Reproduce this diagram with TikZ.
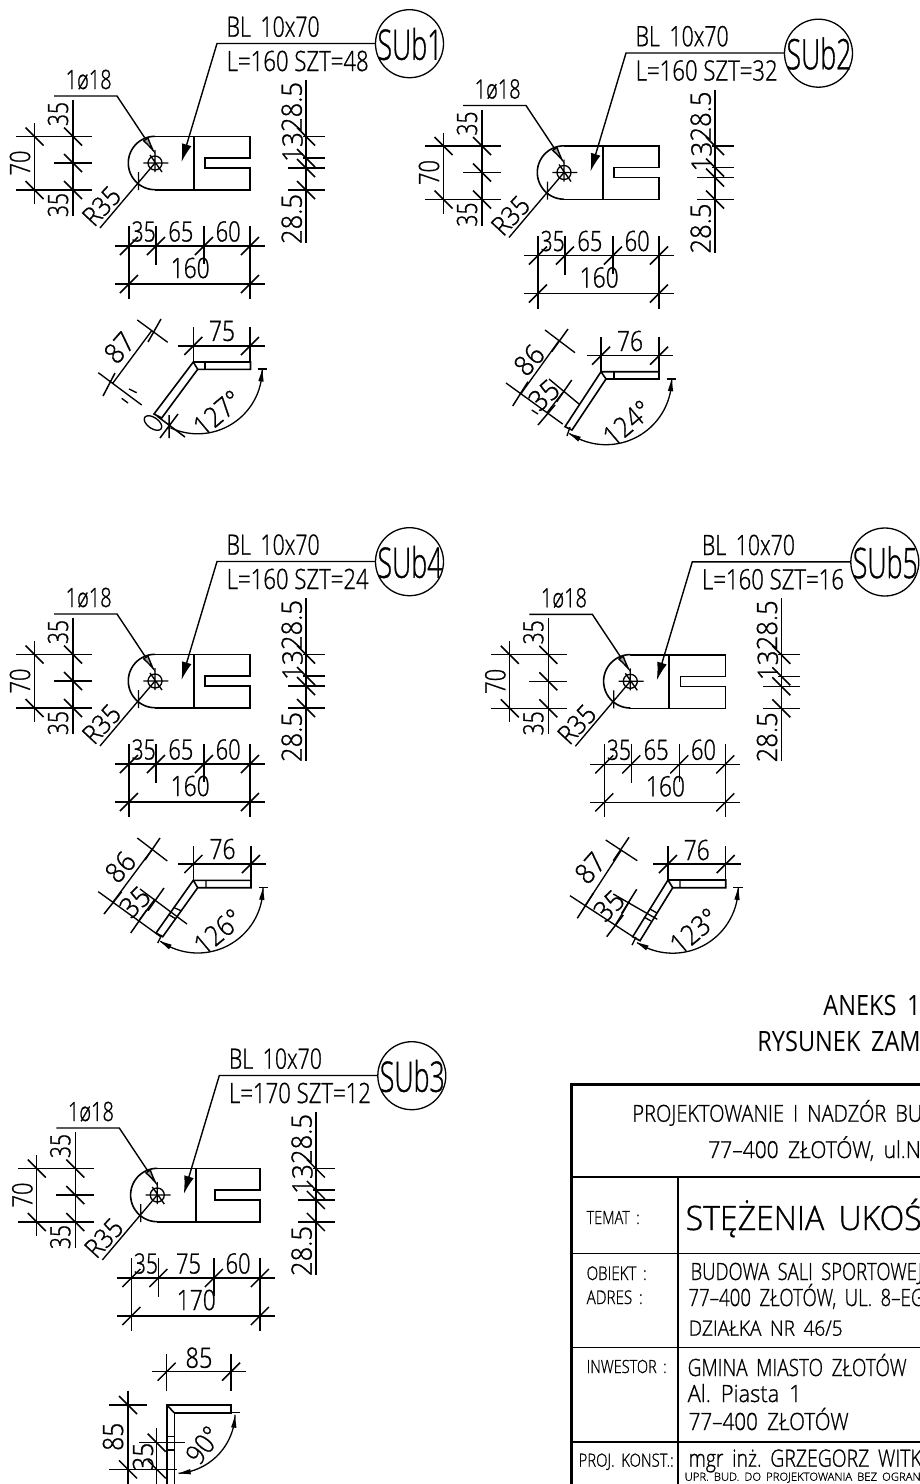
\documentclass[tikz,border=0pt]{standalone}
\usepackage{fontspec}
\usepackage{graphicx}
\setmainfont[FakeBold=1]{Open Sans Light}
\newfontfamily\heavyf{Open Sans}
\usetikzlibrary{arrows.meta}
\newsavebox\tbx
% \ctxt[opts]{x}{y}{width}{cap height}{text}
\newcommand{\ctxt}[6][]{%
  \sbox\tbx{\pgfinterruptpicture\normalfont #6\endpgfinterruptpicture}%
  \pgfmathsetmacro\tsx{#4/(\wd\tbx/1pt)}%
  \pgfmathsetmacro\tsy{#5/7.14}%
  \node[inner sep=0pt,anchor=base west,#1] at (#2,#3) {\scalebox{\tsx}[\tsy]{\usebox\tbx}};%
}
\newcommand{\gp}{\hspace{0.45em}}
\newcommand{\tkb}[2]{\draw[ticks] (#1-9,#2-9) -- (#1+9,#2+9);}
\newcommand{\tkf}[2]{\draw[ticks] (#1-9,#2+9) -- (#1+9,#2-9);}
% filled arrow head: tip x, tip y, direction from tip to tail (screen-clockwise degrees)
\newcommand{\tip}[3]{\fill (#1,#2) -- +(#3+13:12) -- +(#3-13:12) -- cycle;}
% dimension arc: cx cy r start end
\newcommand{\darc}[5]{\draw[arcdim] plot[domain=#4:#5,samples=40] ({#1+#3*cos(\x)},{#2+#3*sin(\x)});}
\tikzset{ticks/.style={line width=1.5pt},
  rottxt/.style={anchor=center,rotate=#1},
  lead/.style={line width=1.4pt},
  arcdim/.style={line width=1.3pt},
  part/.style={line width=1.6pt}}
% top view: dx dy e  line2 sub mid total
\newcommand{\TV}[7]{%
\begin{scope}[shift={(#1,#2)}]
\pgfmathsetmacro\eb{#3}
% plate
\draw[part] plot[domain=90:270,samples=40] ({155+26.7*cos(\x)},{163+26.7*sin(\x)});
\draw[part] (155,136.5)--(250+\eb,136.5)--(250+\eb,158)--(205+\eb,158)--(205+\eb,168)--(250+\eb,168)--(250+\eb,190)--(155,190);
\draw[part] (193.7,136.5)--(193.7,190);
% hole
\draw (155,163) circle[radius=7pt];
\draw (143.3,163)--(168.3,163) (155,150)--(155,172) (150,155)--(162,172);
% leaders
\draw[lead,-{Latex[length=20pt,width=7pt,fill=gray!70]}] (54,96)--(117,96)--(156.5,155.5);
\draw[lead,-{Latex[length=18pt,width=10pt]}] (375,43.5)--(217,43.5)--(181.5,162);
\ctxt{65}{89}{46}{19}{1ø18}
\ctxt{226}{36.7}{93}{20}{BL\gp 10x70}
\ctxt{226}{71}{142}{20}{#4}
\draw[line width=1.3pt] (409.5,43.7) circle[radius=34pt];
\ctxt[rottxt=0]{410}{44}{65}{30}{#5}
% 70
\draw (34.5,123)--(34.5,204) (16,136.5)--(92,136.5) (16,190)--(92,190);
\tkb{34.5}{136.5}\tkb{34.5}{190}
\ctxt[rottxt=90]{20}{163}{25}{20}{70}
% 35/35
\draw (73,100)--(73,216) (54,163)--(92,163);
\tkb{73}{136.5}\tkb{73}{163}\tkb{73}{190}
\ctxt[rottxt=90]{58}{114}{24}{20}{35}
\ctxt[rottxt=90]{58}{205}{24}{20}{35}
% R35
\draw (155,163)--(100,228) (138.5,172)--(138.5,190);
\ctxt[rottxt=47]{101.5}{206}{42}{19}{R35}
% bottom dims
\draw (115,246)--(265+\eb,246) (115,284)--(265+\eb,284);
\draw (129,226)--(129,299) (156,226)--(156,265) (204+\eb,226)--(204+\eb,264) (250+\eb,226)--(250+\eb,299);
\tkf{129}{246}\tkf{156}{246}\tkf{204+\eb}{246}\tkf{250+\eb}{246}\tkf{129}{284}\tkf{250+\eb}{284}
\ctxt{131}{241.5}{24}{20}{35}
\ctxt{167.7+0.7*\eb}{241.5}{25}{20}{#6}
\ctxt{215+\eb}{241.5}{25}{20}{60}
\ctxt{170+0.5*\eb}{278}{39}{20}{#7}
% right dims
\draw (306+\eb,80)--(306+\eb,243);
\draw (303+\eb,136.5)--(325+\eb,136.5) (303+\eb,158)--(325+\eb,158) (288+\eb,168)--(325+\eb,168) (288+\eb,190)--(325+\eb,190);
\tkb{306+\eb}{136.5}\tkb{306+\eb}{158}\tkb{306+\eb}{168}\tkb{306+\eb}{190}
\ctxt[rottxt=90]{291.7+\eb}{107}{50}{20}{28.5}
\ctxt[rottxt=90]{292.5+\eb}{147}{30}{20}{13}
\ctxt[rottxt=90]{291.7+\eb}{219}{50}{20}{28.5}
\end{scope}}
\begin{document}
\begin{tikzpicture}[x=1pt,y=-1pt,line width=1.35pt]
\useasboundingbox (0,0) rectangle (920,1484);
\fill[white] (0,0) rectangle (920,1484);
\clip (0,0) rectangle (920,1484);

\TV{0}{0}{0}{L=160 SZT=48}{SUb1}{65}{160}
\TV{409}{9.5}{0}{L=160 SZT=32}{SUb2}{65}{160}
\TV{0}{518}{0}{L=160 SZT=24}{SUb4}{65}{160}
\TV{475.3}{518.3}{0}{L=160 SZT=16}{SUb5}{65}{160}
\TV{2.3}{1032}{7.6}{L=170 SZT=12}{SUb3}{75}{170}

% ---- bottom view SUb1
\draw (178,346)--(265,346) (193.3,327)--(193.3,362) (250,327)--(250,362);
\tkf{193.3}{346}\tkf{250}{346}
\ctxt[rottxt=0]{222}{331}{26}{20}{75}
\draw[part] (193.3,362)--(250.5,362)--(250.5,369.3)--(197.7,369.3)--(161.7,418)--(154,414)--(193.3,362)--(197.7,369.3);
\draw (205,362)--(205,369);
\draw (112.7,383.3)--(151.7,330.7) (137.3,320)--(167.7,342.3) (98.3,372.7)--(141.7,405);
\draw[ticks] (161,319)--(148,342) (103,396)--(115,373);
\draw (129,389)--(136.7,392.7) (121.7,398.3)--(128,403);
\ctxt[rottxt=48]{119.3}{347.7}{30}{20}{87}
\draw[rotate around={-35:(153,423)}] (153,423) ellipse [x radius=10pt,y radius=5.5pt];
\draw[ticks] (160,438)--(178,414) (157,416)--(185,437) (169,415)--(169,438);
\darc{197.7}{369.3}{64.5}{0}{115}
\tip{262.2}{369.8}{96}
\draw (257.5,369)--(267,369);
\ctxt[rottxt=40]{217.3}{413}{53}{20}{127°}

% ---- bottom view SUb2
\draw (586.7,355.7)--(673,355.7) (601,337)--(601,372) (659,337)--(659,372);
\tkf{601}{355.7}\tkf{659}{355.7}
\ctxt[rottxt=0]{630}{341}{26}{20}{76}
\draw[part] (601,371.7)--(659,371.7)--(659,379)--(606,379)--(572,430)--(565,426.7)--(601,371.7)--(606,379);
\draw (614,372)--(614,379);
\draw (520.7,394)--(559,340.7) (545,330)--(575,352.7) (506,383)--(562.7,424);
\draw[ticks] (568,329)--(551.7,351.7) (512.7,406)--(528,381.7);
\draw (547,412.7)--(562.7,392.7) (549,379)--(579,404);
\draw[ticks] (538,425)--(555,405) (556.7,401.7)--(571.7,380);
\draw (531.7,410)--(538,414) (570,427)--(567,436);
\ctxt[rottxt=48]{529}{360}{30}{20}{86}
\ctxt[rottxt=42]{544}{395}{30}{20}{35}
\darc{606}{379}{65.7}{0}{124}
\tip{671.7}{379.5}{96}
\tip{569.3}{433.5}{29}
\draw (667,379)--(676,379);
\ctxt[rottxt=40]{627}{423}{53}{20}{124°}

% ---- bottom view SUb4
\draw (178,864)--(266,864) (193.3,846)--(193.3,880) (251,846)--(251,880);
\tkf{193.3}{864}\tkf{251}{864}
\ctxt[rottxt=0]{222.5}{849}{26}{20}{76}
\draw[part] (193.3,880.3)--(251,880.3)--(251,887.7)--(197.7,887.7)--(162.7,936.7)--(156,933)--(193.3,880.3)--(197.7,887.7);
\draw (206,880.3)--(206,887.7) (173.3,907.3)--(181,910.7) (168.3,914.3)--(176,919);
\draw (113.3,901.7)--(151.7,850) (137.3,838)--(167.3,861) (98.3,891.7)--(160.7,936.7);
\draw[ticks] (160,838)--(145,860) (104,914)--(121.7,891.7);
\draw (139.3,920)--(155,899) (140,889)--(187,924);
\draw[ticks] (130.7,933)--(146.7,910) (148,910.7)--(164,888);
\draw (161.7,935)--(157.7,943);
\ctxt[rottxt=48]{120.3}{867}{30}{20}{86}
\ctxt[rottxt=44]{135}{902}{30}{20}{35}
\darc{197.7}{887.7}{65.3}{0}{125}
\tip{263}{888.2}{96}
\tip{160.2}{941.2}{30}
\draw (258.5,887.7)--(268,887.7);
\ctxt[rottxt=40]{218}{931.7}{53}{20}{126°}

% ---- bottom view SUb5
\draw (653.3,864)--(740.7,864) (668,846)--(668,880) (725.7,846)--(725.7,880);
\tkf{668}{864}\tkf{725.7}{864}
\ctxt[rottxt=0]{696.7}{850}{26}{20}{76}
\draw[part] (668,880)--(725.7,880)--(725.7,887.7)--(672.7,887.7)--(640,940.7)--(632.7,936.7)--(668,880)--(672.7,887.7);
\draw (680,880)--(680,887.7) (650,909)--(657,913) (644,917)--(651,921);
\draw (585,906)--(621,850.7) (605.7,840)--(637.3,860.7) (570,895.7)--(633,936.7);
\draw[ticks] (629,837.3)--(613.3,860.7) (577.3,918.3)--(593.3,893.3);
\draw (615,925.7)--(629.3,901.7) (613.3,894)--(657.3,919.3);
\draw[ticks] (606.7,936.7)--(623.3,915) (621.7,913.3)--(636.7,889.3);
\draw (636,937)--(632,945);
\ctxt[rottxt=48]{590}{868}{30}{20}{87}
\ctxt[rottxt=44]{609}{905.7}{30}{20}{35}
\darc{672.7}{887.7}{65.5}{0}{123}
\tip{738.2}{888.2}{96}
\tip{637}{942.5}{28}
\draw (733,887.7)--(743,887.7);
\ctxt[rottxt=40]{694}{931}{53}{20}{123°}

% ---- bottom view SUb3
\draw (152,1371.7)--(245.7,1371.7) (166.7,1354)--(166.7,1391) (231,1354)--(231,1391);
\tkf{166.7}{1371.7}\tkf{231}{1371.7}
\ctxt[rottxt=0]{199}{1357.7}{27}{20}{85}
\draw[part] (174.3,1490)--(174.3,1412.7)--(231,1412.7)--(231,1405)--(166.7,1405)--(166.7,1490);
\draw[part] (166.7,1405)--(174.3,1412.7);
\draw (231,1412.7)--(240,1412.7) (166.7,1436.7)--(174.3,1436.7) (166.7,1450)--(174.3,1450);
\draw (139,1442.7)--(185,1442.7) (109,1469.3)--(176.7,1469.3) (109.3,1405)--(147,1405);
\draw (128,1390.7)--(128,1490) (156.7,1428)--(156.7,1490);
\tkb{128}{1405}\tkb{128}{1469.3}\tkb{156.7}{1442.7}\tkb{156.7}{1469.3}
\ctxt[rottxt=90]{113}{1436.7}{28}{20}{85}
\ctxt[rottxt=90]{143}{1456.7}{28}{20}{35}
\darc{174.3}{1412.7}{60.8}{2}{86}
\tip{235}{1416}{96}
\tip{179}{1473.3}{-8}
\ctxt[rottxt=52]{203.3}{1445}{38}{20}{90°}

% ---- title block
\ctxt{822.7}{1015}{97.3}{20}{{\heavyf ANEKS\gp 1}}
\ctxt{756.7}{1051.7}{163.3}{20}{{\heavyf RYSUNEK\gp ZAM}}
\draw[line width=3pt] (571,1490)--(571,1084)--(925,1084);
\draw[line width=1.4pt] (571,1177)--(925,1177) (571,1253.3)--(925,1253.3) (571,1347.3)--(925,1347.3);
\draw[line width=1.8pt] (571,1441.7)--(925,1441.7);
\draw[line width=1.6pt] (677.7,1177)--(677.7,1490);
\ctxt{631.7}{1121.7}{290}{16.7}{PROJEKTOWANIE\gp I\gp NADZÓR\gp BU}
\ctxt{707.7}{1158}{212.5}{16.7}{77–400\gp ZŁOTÓW,\gp ul.N}
\ctxt{586}{1224}{53}{13}{TEMAT\gp :}
\ctxt{685}{1230}{236}{24}{STĘŻENIA\gp UKOŚ}
\ctxt{586}{1280}{60}{13.5}{OBIEKT\gp :}
\ctxt{586}{1304}{56}{13.5}{ADRES\gp :}
\ctxt{690}{1280}{232}{17}{BUDOWA\gp SALI\gp SPORTOWEJ}
\ctxt{687.7}{1306}{236}{17}{77–400\gp ZŁOTÓW,\gp UL.\gp 8–EG}
\ctxt{688}{1335.7}{154}{15}{DZIAŁKA\gp NR\gp 46/5}
\ctxt{586}{1373}{80}{13}{INWESTOR\gp :}
\ctxt{687}{1376}{219}{17}{GMINA\gp MIASTO\gp ZŁOTÓW}
\ctxt{687}{1402}{114}{17}{Al.\gp Piasta\gp 1}
\ctxt{688}{1430}{160}{17}{77–400\gp ZŁOTÓW}
\ctxt{578}{1466.7}{95}{13}{PROJ.\gp KONST.:}
\ctxt{688}{1466.7}{233}{17}{mgr\gp inż.\gp GRZEGORZ\gp WITK}
\ctxt{684}{1480.7}{236}{8}{UPR.\gp BUD.\gp DO\gp PROJEKTOWANIA\gp BEZ\gp OGRAN}
\end{tikzpicture}
\end{document}
